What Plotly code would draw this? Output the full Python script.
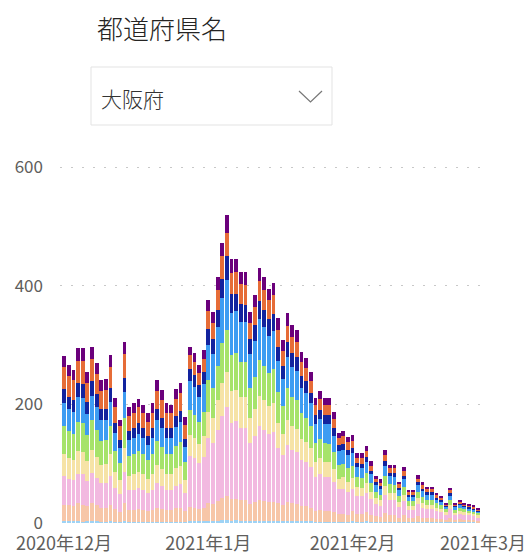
import plotly.graph_objects as go
import pandas as pd

dates = pd.date_range("2020-12-01", "2021-02-28", freq="D")

series_names = ["区分1", "区分2", "区分3", "区分4", "区分5", "区分6", "区分7", "区分8", "区分9"]
series_colors = ["#9ED3F5", "#F7C6A8", "#F2B9E0", "#F6E3A6", "#A6E36A",
                 "#3D9CF2", "#12239E", "#E66C37", "#6B007B"]

s1 = [3,3,3,3,2,3,3,3,2,2,3,2,2,3,2,2,2,2,2,2,2,2,2,2,2,2,2,3,3,3,3,
      4,4,4,5,5,4,5,4,4,4,4,4,4,4,4,3,3,4,3,3,3,3,3,2,2,2,2,2,2,2,1,
      3,2,2,3,2,2,1,2,2,2,1,2,1,1,2,1,1,1,1,1,1,1,1,1,1,1,1,1]
s2 = [28,27,26,30,29,25,30,27,24,24,28,21,17,31,20,20,21,20,18,20,24,22,20,20,23,24,18,24,23,21,23,
      30,28,33,38,40,36,35,34,34,28,31,34,33,32,32,31,28,32,30,29,26,25,23,19,20,19,19,17,14,14,13,
      18,14,14,16,12,10,9,15,12,12,8,11,7,7,10,8,7,7,6,6,4,7,4,5,4,4,4,3]
s3 = [48,45,44,50,52,43,51,46,41,41,48,36,30,52,33,34,36,34,31,34,41,38,34,34,38,40,30,86,83,77,85,
      109,103,120,137,150,129,132,123,122,103,111,125,120,115,117,93,83,96,90,88,78,75,69,57,60,57,56,50,41,42,39,
      37,30,29,32,26,20,19,31,25,24,18,24,14,14,20,17,15,16,13,12,9,15,8,10,9,8,7,6]
s4 = [37,35,34,38,37,33,39,35,31,32,37,27,23,40,25,26,27,26,24,26,31,29,26,26,29,31,23,36,34,32,35,
      45,43,50,57,60,53,52,51,52,43,46,52,50,47,49,42,37,42,40,39,35,33,31,25,27,25,26,22,18,19,17,
      18,14,14,16,12,10,9,15,12,12,8,11,7,7,10,8,7,7,6,5,4,7,4,5,4,4,3,3]
s5 = [48,45,44,50,49,44,50,46,41,41,48,36,30,52,33,34,36,34,31,34,41,38,34,34,38,40,30,42,40,37,41,
      53,50,58,66,70,62,63,59,60,50,54,60,58,55,57,52,46,53,50,49,43,42,38,32,33,32,31,28,23,23,22,
      21,17,17,18,15,11,10,17,14,14,10,13,8,8,11,10,9,8,7,6,5,8,5,5,5,4,4,4]
s6 = [39,37,36,41,42,36,42,38,34,34,40,30,24,43,27,28,29,28,26,28,34,31,28,28,32,33,25,48,46,43,47,
      60,57,66,76,85,71,70,68,67,57,61,69,66,63,65,52,46,53,50,49,43,42,38,32,33,32,33,28,23,23,22,
      21,17,17,18,15,11,10,17,14,14,10,13,8,8,11,10,9,9,7,6,5,8,5,5,5,4,4,3]
s7 = [23,21,21,24,23,20,24,22,19,19,23,17,14,24,16,16,17,16,15,16,19,18,16,16,18,19,14,21,20,19,20,
      26,25,29,33,40,31,30,30,29,25,27,30,29,28,28,24,22,25,23,23,20,19,18,15,16,15,15,13,11,11,10,
      9,7,7,8,6,5,4,7,6,6,4,6,3,3,5,4,4,4,3,3,2,4,2,2,2,2,2,1]
s8 = [37,35,34,38,40,33,38,35,31,32,37,27,23,40,25,26,27,26,24,26,31,29,26,26,29,31,23,24,23,21,23,
      30,28,33,38,40,36,36,34,33,28,31,34,33,32,32,28,25,28,27,26,23,22,20,17,18,17,17,15,12,12,12,
      12,9,10,10,8,6,6,10,8,8,6,8,4,5,6,6,5,5,4,4,2,5,3,3,2,3,2,2]
s9 = [19,18,16,21,21,18,20,18,18,18,19,15,11,20,15,16,14,13,14,16,18,17,16,13,17,16,14,13,15,13,15,
      19,18,22,22,29,23,22,20,22,18,19,22,22,19,21,21,19,21,21,19,17,17,15,12,14,12,12,12,8,9,9,
      9,8,8,9,8,5,6,9,5,6,5,6,4,3,6,5,4,4,4,3,2,4,2,3,2,2,2,2]

series_values = [s1, s2, s3, s4, s5, s6, s7, s8, s9]

tick_vals = ["2020-12-01", "2021-01-01", "2021-02-01", "2021-03-01"]
tick_text = ["2020年12月", "2021年1月", "2021年2月", "2021年3月"]
y_ticks = [0, 200, 400, 600]

title_text = "都道府県名"
slicer_value = "大阪府"

FONT = "Noto Sans CJK JP"

fig = go.Figure()
for name, color, vals in zip(series_names, series_colors, series_values):
    fig.add_trace(go.Bar(x=dates, y=vals, name=name, marker=dict(color=color, line=dict(width=0))))

W, H = 531, 555
L, R, T, B = 60, 487, 165, 523
YMAX = 604

def px(x):  # page x -> paper
    return (x - L) / (R - L)
def py(y):  # page y -> paper
    return (B - y) / (B - T)

fig.update_layout(
    barmode="stack",
    bargap=0.2,
    width=W, height=H,
    margin=dict(l=L, r=W - R, t=T, b=H - B, pad=0, autoexpand=False),
    paper_bgcolor="white",
    plot_bgcolor="white",
    showlegend=False,
    font=dict(family=FONT, color="#605E5C"),
    xaxis=dict(
        type="date", automargin=False,
        range=["2020-11-30 03:00", "2021-03-01 21:00"],
        tickvals=tick_vals, ticktext=tick_text,
        tickfont=dict(size=18, color="#605E5C"),
        showgrid=False, zeroline=False, showline=False, ticks="",
        ticklabelstandoff=8,
    ),
    yaxis=dict(
        automargin=False,
        range=[0, YMAX],
        tickvals=y_ticks,
        tickfont=dict(size=17, color="#605E5C"),
        showgrid=True, gridcolor="#C8C8C8", griddash="2px,9px", gridwidth=1,
        zeroline=False, showline=False, ticks="",
        ticklabelstandoff=16,
    ),
    shapes=[
        dict(type="rect", xref="paper", yref="paper",
             x0=px(91), x1=px(332), y0=py(125), y1=py(67),
             line=dict(color="#E3E3E3", width=1), fillcolor="white", layer="below"),
        dict(type="path", xref="paper", yref="paper",
             path=f"M {px(299)},{py(91)} L {px(310.5)},{py(102)} L {px(322)},{py(91)}",
             line=dict(color="#777777", width=1.2)),
    ],
    annotations=[
        dict(text=title_text, xref="paper", yref="paper", x=px(95), y=py(28),
             xanchor="left", yanchor="middle", showarrow=False,
             font=dict(family=FONT, size=26, color="#252423", weight=300)),
        dict(text=slicer_value, xref="paper", yref="paper", x=px(99), y=py(98),
             xanchor="left", yanchor="middle", showarrow=False,
             font=dict(family=FONT, size=21, color="#333333", weight=300)),
    ],
)

fig.write_html(
    "out.html",
    config=dict(displayModeBar=False),
    post_script="document.body.style.margin='0';document.body.style.overflow='hidden';",
)
